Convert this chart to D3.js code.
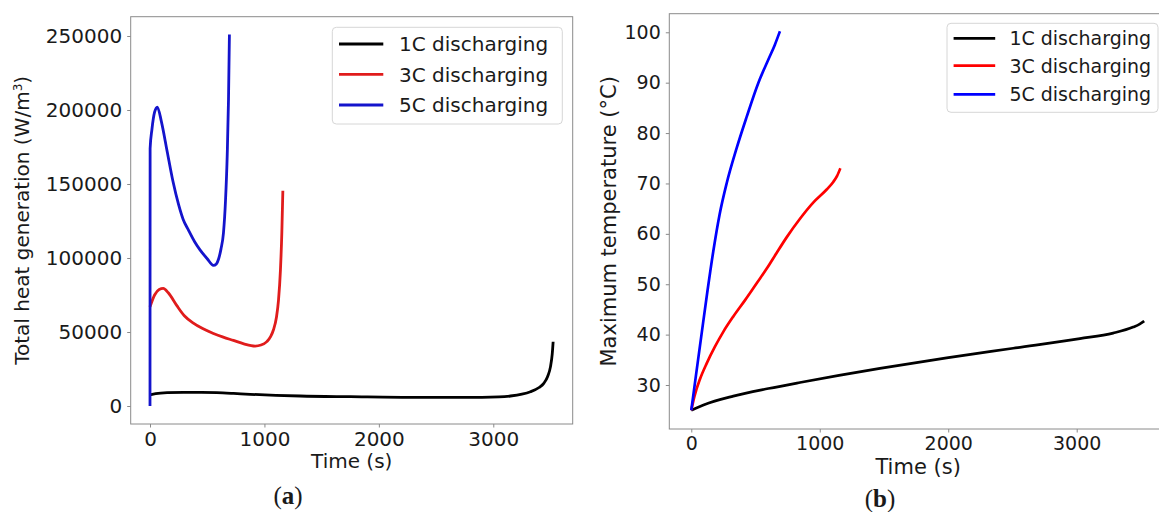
<!DOCTYPE html>
<html>
<head>
<meta charset="utf-8">
<script src="https://cdn.jsdelivr.net/npm/d3@7"></script>
<style>
  html, body { margin: 0; padding: 0; background: #fff; }
  svg { display: block; }
  text { font-family: "DejaVu Sans", sans-serif; fill: #1a1a1a; }
</style>
</head>
<body>
<svg id="fig" width="1159" height="512"></svg>
<script>
// ---- data ----
const seriesNames = ["1C discharging", "3C discharging", "5C discharging"];
const timeTicks = [0, 1000, 2000, 3000];
const heatTicks = [0, 50000, 100000, 150000, 200000, 250000];
const tempTicks = [30, 40, 50, 60, 70, 80, 90, 100];

// Total heat generation (W/m3) vs time (s)
const heat1C = [[0, 7500], [50, 8300], [150, 9000], [292, 9250], [450, 9200], [583, 9000],
  [730, 8500], [875, 7900], [1100, 7200], [1312, 6750], [1750, 6300], [2333, 5850],
  [2900, 5850], [3050, 6100], [3150, 6750], [3250, 8000], [3325, 9650], [3400, 12500],
  [3441, 15300], [3475, 20000], [3500, 26600], [3515, 35000], [3523, 43400]];
const heat3C = [[0, 67000], [40, 75000], [80, 78800], [116, 79500], [160, 76500], [233, 68000],
  [300, 61000], [379, 56000], [460, 52300], [554, 49000], [640, 46500], [729, 44300],
  [820, 42000], [919, 40500], [970, 41200], [1021, 43500], [1055, 47000], [1079, 51500],
  [1105, 60000], [1123, 71600], [1140, 92000], [1152, 117000], [1161, 145500]];
const heat5C = [[0, 0], [1, 174000], [17, 187000], [40, 198500], [64, 202000], [100, 192000],
  [150, 172000], [200, 152000], [250, 136000], [290, 126000], [335, 119000], [390, 111000],
  [437, 105500], [500, 99500], [554, 95000], [580, 96000], [600, 99500], [620, 106000],
  [642, 117000], [660, 139000], [675, 170000], [686, 207000], [694, 251000]];

// Maximum temperature (°C) vs time (s)
const temp1C = [[0, 25], [100, 26.1], [327, 27.8], [600, 29.3], [846, 30.5], [1150, 31.9],
  [1469, 33.3], [1988, 35.4], [2506, 37.3], [3025, 39.2], [3284, 40.3], [3440, 41.5],
  [3490, 42.1], [3525, 42.7]];
const temp3C = [[0, 25], [25, 27.8], [68, 31.2], [120, 34.3], [184, 37.6], [250, 40.6],
  [327, 43.6], [420, 46.9], [509, 50.2], [590, 53.2], [664, 56.2], [742, 59.3], [846, 63.0],
  [949, 66.2], [1054, 68.8], [1105, 70.3], [1135, 71.5], [1160, 73]];
const temp5C = [[0, 25], [40, 32.6], [81, 40.3], [125, 48.5], [171, 56.5], [220, 63.8],
  [275, 70], [353, 77], [431, 83.2], [521, 89.9], [600, 94.6], [650, 97.5], [690, 100.2]];

const svg = d3.select("#fig");
const FRAME = "#8a8a8a";

function panel(cfg) {
  const g = svg.append("g");
  const x = d3.scaleLinear().domain(cfg.xDomain).range([cfg.left, cfg.right]);
  const y = d3.scaleLinear().domain(cfg.yDomain).range([cfg.bottom, cfg.top]);
  const fs = cfg.fontSize;

  const clipId = "clip-" + cfg.id;
  svg.append("clipPath").attr("id", clipId).append("rect")
    .attr("x", cfg.left).attr("y", cfg.top)
    .attr("width", cfg.right - cfg.left).attr("height", cfg.bottom - cfg.top);

  // axes
  const xAxis = d3.axisBottom(x).tickValues(cfg.xTicks).tickFormat(d3.format("d"))
    .tickSize(3.5).tickPadding(4);
  const yAxis = d3.axisLeft(y).tickValues(cfg.yTicks).tickFormat(d3.format("d"))
    .tickSize(3.5).tickPadding(5);

  const gx = g.append("g").attr("transform", `translate(0,${cfg.bottom})`).call(xAxis);
  const gy = g.append("g").attr("transform", `translate(${cfg.left},0)`).call(yAxis);
  [gx, gy].forEach(a => {
    a.select(".domain").remove();
    a.selectAll(".tick line").attr("stroke", FRAME).attr("stroke-width", 1);
    a.selectAll(".tick text").style("font-size", fs + "px")
      .style("font-family", "'DejaVu Sans', sans-serif").attr("fill", "#1a1a1a");
  });

  // lines
  const line = d3.line().x(d => x(d[0])).y(d => y(d[1])).curve(d3.curveMonotoneX);
  const lines = g.append("g").attr("clip-path", `url(#${clipId})`);
  cfg.series.forEach((s, i) => {
    lines.append("path").datum(s).attr("d", line)
      .attr("fill", "none").attr("stroke", cfg.colors[i])
      .attr("stroke-width", cfg.lineWidth).attr("stroke-linejoin", "round").attr("stroke-linecap", "butt");
  });

  // frame
  g.append("rect").attr("x", cfg.left).attr("y", cfg.top)
    .attr("width", cfg.right - cfg.left).attr("height", cfg.bottom - cfg.top)
    .attr("fill", "none").attr("stroke", FRAME).attr("stroke-width", 1);

  // axis titles
  const ls = cfg.labelSize;
  g.append("text").attr("x", (cfg.left + cfg.right) / 2).attr("y", cfg.xLabelY)
    .attr("text-anchor", "middle").style("font-size", ls + "px").text("Time (s)");
  const yl = g.append("text")
    .attr("transform", `translate(${cfg.yLabelX},${(cfg.top + cfg.bottom) / 2}) rotate(-90)`)
    .attr("text-anchor", "middle").style("font-size", ls + "px");
  cfg.yLabel(yl);

  // legend
  const L = cfg.legend;
  g.append("rect").attr("x", L.x0).attr("y", L.y0).attr("width", L.x1 - L.x0).attr("height", L.y1 - L.y0)
    .attr("rx", 4).attr("fill", "#fff").attr("fill-opacity", 0.8)
    .attr("stroke", "#d6d6d6").attr("stroke-width", 1);
  seriesNames.forEach((name, i) => {
    const yy = L.rowY[i];
    g.append("line").attr("x1", L.lx0).attr("x2", L.lx1).attr("y1", yy).attr("y2", yy)
      .attr("stroke", cfg.colors[i]).attr("stroke-width", cfg.lineWidth);
    g.append("text").attr("x", L.tx).attr("y", yy + fs * 0.36)
      .style("font-size", fs + "px").text(name);
  });

  // panel tag
  const tag = g.append("text").attr("x", cfg.tagX).attr("y", cfg.tagY).attr("text-anchor", "middle")
    .style("font-family", "'Liberation Serif', 'DejaVu Serif', serif").style("font-size", "25px");
  tag.append("tspan").text("(");
  tag.append("tspan").style("font-weight", "bold").text(cfg.tag);
  tag.append("tspan").text(")");
}

// (a) total heat generation
panel({
  id: "a", left: 130.7, right: 572.7, top: 16.7, bottom: 424,
  xDomain: [-168.7, 3694], yDomain: [-12162, 263040],
  xTicks: timeTicks, yTicks: heatTicks, fontSize: 20, labelSize: 20, lineWidth: 2.8,
  series: [heat1C, heat3C, heat5C], colors: ["#000000", "#e01c1c", "#1414cc"],
  xLabelY: 468,
  yLabelX: 28.5,
  yLabel: t => {
    t.append("tspan").text("Total heat generation (W/m");
    t.append("tspan").attr("baseline-shift", "super").style("font-size", "12px").text("3");
    t.append("tspan").text(")");
  },
  legend: { x0: 332.3, x1: 562.3, y0: 27.3, y1: 124, lx0: 339, lx1: 383.3, tx: 399, rowY: [44, 74.3, 105] },
  tag: "a", tagX: 288, tagY: 504
});

// (b) maximum temperature
panel({
  id: "b", left: 669.3, right: 1167, top: 13.7, bottom: 429,
  xDomain: [-171.2, 3703], yDomain: [21.27, 103.69],
  xTicks: timeTicks, yTicks: tempTicks, fontSize: 19, labelSize: 21, lineWidth: 2.7,
  series: [temp1C, temp3C, temp5C], colors: ["#000000", "#ff0000", "#0000ff"],
  xLabelY: 474,
  yLabelX: 615.5,
  yLabel: t => t.text("Maximum temperature (°C)"),
  legend: { x0: 947, x1: 1158, y0: 23.3, y1: 112.3, lx0: 953.6, lx1: 995.2, tx: 1009.4, rowY: [38.3, 65.7, 94.3] },
  tag: "b", tagX: 880, tagY: 507
});
</script>
</body>
</html>
